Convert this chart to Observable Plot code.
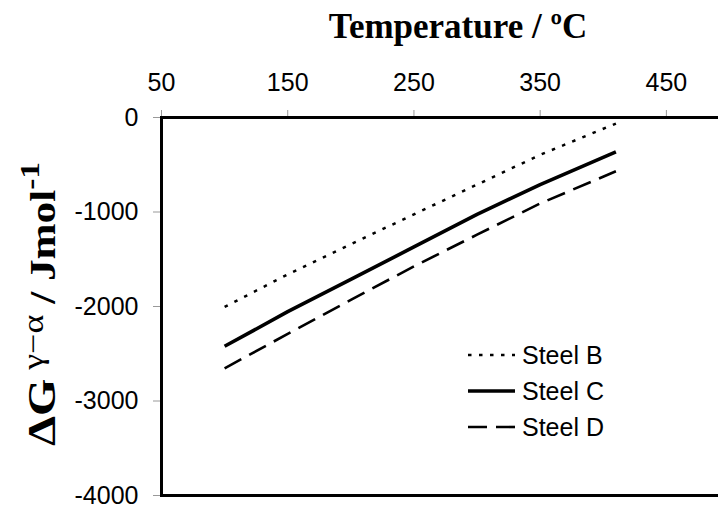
<!DOCTYPE html>
<html>
<head>
<meta charset="utf-8">
<script src="https://cdn.jsdelivr.net/npm/d3@7"></script>
<script src="https://cdn.jsdelivr.net/npm/@observablehq/plot@0.6"></script>
<style>
  html, body { margin: 0; padding: 0; background: white; }
  #wrap { width: 718px; height: 507px; overflow: hidden; position: relative; }
</style>
</head>
<body>
<div id="wrap"></div>
<script>
// ---- data ----
const temps  = [100, 150, 200, 250, 300, 350, 410];
const steelB = [-2005, -1660, -1340, -1025, -710, -395, -64];
const steelC = [-2421, -2055, -1712, -1370, -1025, -710, -364];
const steelD = [-2654, -2290, -1930, -1575, -1240, -910, -569];
const seriesNames = ["Steel B", "Steel C", "Steel D"];
const xTicks = [50, 150, 250, 350, 450];
const yTicks = [0, -1000, -2000, -3000, -4000];
const xTitle = "Temperature / ºC";

const allValues = [steelB, steelC, steelD];
const rows = seriesNames.flatMap((s, k) => temps.map((t, i) => ({t, v: allValues[k][i], s})));

// ---- styles (kept separate from data) ----
const lineStyle = {
  "Steel B": {strokeWidth: 2.5, strokeDasharray: "3.5,7.5"},
  "Steel C": {strokeWidth: 3.6, strokeDasharray: "none"},
  "Steel D": {strokeWidth: 2.6, strokeDasharray: "19,9"}
};

const chart = Plot.plot({
  width: 729,
  height: 507,
  marginTop: 117,
  marginLeft: 161,
  marginRight: 0,
  marginBottom: 12,
  x: {domain: [50, 500]},
  y: {domain: [-4000, 0]},
  style: {
    fontFamily: "'Liberation Sans', Arial, sans-serif",
    fontSize: "25px",
    color: "black",
    background: "white",
    maxWidth: "none",
    overflow: "hidden"
  },
  marks: [
    Plot.axisX({anchor: "top", ticks: xTicks, tickSize: 8, tickPadding: 19, stroke: "#999", fill: "black", label: null, tickFormat: d => String(d)}),
    Plot.axisY({anchor: "left", ticks: yTicks, tickSize: 8, tickPadding: 15, stroke: "#999", fill: "black", label: null, tickFormat: d => String(d)}),
    ...seriesNames.map(s => Plot.line(rows.filter(r => r.s === s), {
      x: "t", y: "v", stroke: "black",
      strokeWidth: lineStyle[s].strokeWidth,
      strokeDasharray: lineStyle[s].strokeDasharray,
      strokeLinecap: "butt"
    })),
    Plot.frame({stroke: "black", strokeWidth: 3})
  ]
});

document.getElementById("wrap").appendChild(chart);

const svg = d3.select(chart);

// Title
svg.append("text")
  .attr("x", 458).attr("y", 38)
  .attr("text-anchor", "middle")
  .attr("font-family", "'Liberation Serif', 'Times New Roman', serif")
  .attr("font-weight", "bold")
  .attr("font-size", 35)
  .attr("fill", "black")
  .text(xTitle);

// Y-axis label (reference glyphs are elongated along the reading direction)
const yl = svg.append("text")
  .attr("transform", "translate(55,304) rotate(-90) scale(1.2,1)")
  .attr("text-anchor", "middle")
  .attr("font-family", "'Liberation Serif', 'Times New Roman', serif")
  .attr("font-weight", "bold")
  .attr("font-size", 36)
  .attr("fill", "black");
yl.append("tspan").attr("font-size", 40).text("ΔG");
yl.append("tspan").attr("dy", -12).attr("font-size", 30).attr("font-weight", "normal").text(" γ−α");
yl.append("tspan").attr("dy", 12).text(" / Jmol");
yl.append("tspan").attr("dy", -16).attr("font-size", 28).text("-1");

// Legend
const legendX1 = 468, legendX2 = 515, legendY0 = 355, legendStep = 36;
const lg = svg.append("g").attr("text-anchor", "start");
seriesNames.forEach((s, i) => {
  const y = legendY0 + i * legendStep;
  lg.append("line")
    .attr("x1", legendX1).attr("x2", legendX2)
    .attr("y1", y).attr("y2", y)
    .attr("stroke", "black")
    .attr("stroke-width", lineStyle[s].strokeWidth)
    .attr("stroke-dasharray", lineStyle[s].strokeDasharray);
  lg.append("text")
    .attr("x", legendX2 + 7).attr("y", y + 9)
    .attr("text-anchor", "start")
    .attr("font-family", "'Liberation Sans', Arial, sans-serif")
    .attr("font-size", 25)
    .attr("fill", "black")
    .text(s);
});
</script>
</body>
</html>
